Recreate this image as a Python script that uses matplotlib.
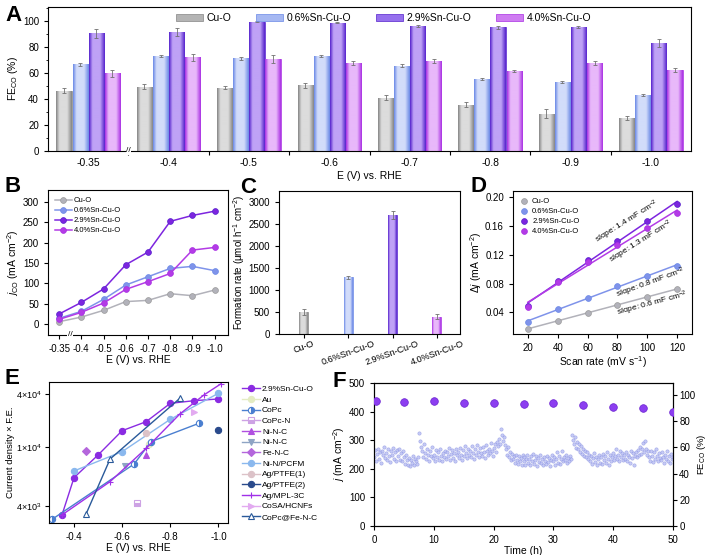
import numpy as np
import matplotlib
matplotlib.use('Agg')
import matplotlib.pyplot as plt
from matplotlib.colors import LinearSegmentedColormap
from matplotlib.ticker import MultipleLocator, NullLocator

plt.rcParams['font.family'] = ['Liberation Sans', 'DejaVu Sans']
plt.rcParams['mathtext.fontset'] = 'custom'
plt.rcParams['mathtext.rm'] = 'Liberation Sans'
plt.rcParams['mathtext.it'] = 'Liberation Sans:italic'
plt.rcParams['axes.unicode_minus'] = False
plt.rcParams['font.size'] = 7
plt.rcParams['axes.linewidth'] = 0.8
plt.rcParams['xtick.major.width'] = 0.8
plt.rcParams['ytick.major.width'] = 0.8
plt.rcParams['xtick.major.size'] = 3
plt.rcParams['ytick.major.size'] = 3
plt.rcParams['xtick.minor.size'] = 1.8
plt.rcParams['ytick.minor.size'] = 1.8

# ---- data ----
samples = ['Cu-O', '0.6%Sn-Cu-O', '2.9%Sn-Cu-O', '4.0%Sn-Cu-O']
potentials = ['-0.35', '-0.4', '-0.5', '-0.6', '-0.7', '-0.8', '-0.9', '-1.0']

# A: FE_CO (%)
fe_cu = [46.2, 49.2, 48.7, 50.5, 41.0, 35.4, 28.7, 25.6]
fe_06 = [66.4, 72.8, 71.0, 72.8, 65.4, 55.4, 52.8, 42.8]
fe_29 = [90.3, 91.3, 99.2, 98.5, 95.9, 94.9, 95.4, 83.1]
fe_40 = [59.5, 71.8, 70.5, 67.2, 69.2, 61.5, 67.2, 62.3]
fe_cu_err = [2.0, 2.0, 1.5, 2.0, 2.0, 2.0, 3.5, 1.5]
fe_06_err = [1.5, 0.5, 1.5, 0.8, 1.0, 1.0, 1.0, 0.8]
fe_29_err = [3.5, 3.0, 0.5, 0.5, 1.0, 1.0, 0.8, 3.0]
fe_40_err = [3.0, 2.5, 3.0, 1.5, 1.5, 1.0, 1.5, 1.5]

# B: j_CO (mA cm-2)
jco_cu = [5.7, 17, 33.5, 55, 58, 74.4, 69.5, 83.4]
jco_06 = [14, 31, 60.5, 95.7, 116, 136.5, 141.5, 131]
jco_29 = [24.5, 53, 86, 145.5, 176.6, 252, 266.6, 277]
jco_40 = [11.4, 28.6, 51.5, 85, 104, 124, 181.5, 188]

# C: formation rate
rate = [500, 1286, 2705, 393]
rate_err = [60, 35, 90, 55]

# D: double-layer capacitance
scan_rate = [20, 40, 60, 80, 100, 120]
dj_cu = [0.0168, 0.0284, 0.0395, 0.0497, 0.0618, 0.0724]
dj_06 = [0.026, 0.045, 0.0604, 0.0766, 0.090, 0.105]
dj_29 = [0.0488, 0.0836, 0.1128, 0.1388, 0.167, 0.1912]
dj_40 = [0.048, 0.082, 0.1105, 0.1337, 0.157, 0.1777]
slope_labels = ['0.6', '0.8', '1.4', '1.3']

# E: comparison with literature (E vs RHE, current density x F.E.)
e_sn29 = ([-0.35, -0.4, -0.5, -0.6, -0.7, -0.8, -0.9, -1.0],
          [3480, 6210, 8830, 15310, 19380, 31300, 33570, 35100])
e_au = ([-0.71], [10800])
e_copc = ([-0.31, -0.65, -0.72, -0.92], [3260, 7680, 11500, 18600])
e_copcn = ([-0.66], [4170])
e_ninc1 = ([-0.70], [8830])
e_ninc2 = ([-0.61], [7450])
e_fenc = ([-0.45], [9440])
e_pcfm = ([-0.4, -0.6, -0.8, -1.0], [6890, 9300, 20600, 40700])
e_ptfe1 = ([-0.70], [14300])
e_ptfe2 = ([-1.0], [15600])
e_mpl = ([-0.35, -0.55, -0.7, -0.84, -0.94, -1.01], [3480, 5840, 9800, 23700, 39000, 52000])
e_cosa = ([-0.90], [25200])
e_copcfe = ([-0.45, -0.55, -0.84], [3530, 8300, 35700])

# F: stability, j every 10 min and FE every 5 h
j_stab = [
    240, 265, 228, 252, 270, 235, 258, 222, 262, 248, 275, 238,
    255, 230, 268, 245, 224, 262, 250, 272, 236, 258, 228, 266,
    244, 270, 232, 255, 226, 262, 240, 218, 250, 231, 215, 238,
    210, 232, 222, 245, 214, 236, 228, 218, 242, 325, 298, 275,
    262, 240, 285, 255, 236, 270, 248, 229, 262, 244, 275, 238,
    250, 228, 265, 242, 258, 232, 270, 246, 226, 255, 240, 262,
    235, 258, 244, 272, 230, 252, 265, 238, 256, 229, 268, 247,
    260, 238, 274, 250, 232, 266, 245, 280, 255, 237, 270, 249,
    262, 242, 278, 254, 236, 268, 250, 284, 258, 240, 272, 256,
    245, 276, 258, 238, 282, 262, 248, 270, 255, 290, 262, 244,
    272, 286, 260, 295, 278, 305, 288, 340, 318, 296, 310, 282,
    268, 248, 275, 240, 258, 230, 252, 236, 244, 222, 250, 232,
    218, 245, 228, 238, 215, 250, 226, 240, 212, 234, 248, 222,
    236, 214, 244, 226, 252, 218, 232, 245, 210, 238, 224, 248,
    220, 236, 212, 242, 228, 216, 246, 224, 238, 210, 232, 250,
    226, 240, 214, 235, 258, 222, 244, 218, 236, 262, 228, 242,
    232, 248, 220, 238, 226, 245, 235, 318, 300, 285, 310, 272,
    295, 268, 288, 260, 278, 252, 270, 246, 262, 240, 258, 236,
    250, 228, 244, 218, 238, 255, 225, 242, 215, 236, 248, 222,
    240, 218, 252, 230, 245, 222, 258, 235, 215, 248, 228, 242,
    255, 232, 246, 268, 236, 250, 228, 262, 240, 255, 230, 248,
    236, 258, 228, 250, 242, 222, 262, 238, 254, 215, 246, 258,
    240, 265, 248, 275, 252, 268, 290, 258, 298, 270, 250, 262,
    240, 228, 262, 246, 224, 258, 236, 270, 244, 226, 255, 238,
    230, 258, 242, 222, 250, 236, 262, 228, 245, 220, 252, 236, 240]
j_time = np.arange(len(j_stab)) / 6.0
fe_time = [0.4, 5, 10, 15, 20, 25, 30, 35, 40, 45, 50]
fe_stab = [95.2, 94.7, 95.0, 93.5, 93.7, 92.9, 94.0, 91.9, 90.9, 89.7, 86.9]

# colours (dark edge, light centre, line colour)
dark = ['#858585', '#6a88e6', '#5522cc', '#a92fe3']
light = ['#dcdcdc', '#d2dcfa', '#bfa2f6', '#e8b8fa']
mid = ['#b4b4b4', '#a6b8f2', '#9670ee', '#cf7cf2']
line_c = ['#b2b2ba', '#7f93ea', '#7d25df', '#b33be6']


def shade(ax, bars, d, l):
    cmap = LinearSegmentedColormap.from_list('g', [(0, d), (0.22, l), (0.7, l), (1, d)])
    grad = np.linspace(0, 1, 64).reshape(1, -1)
    for b in bars:
        x0, y0 = b.get_xy()
        im = ax.imshow(grad, extent=[x0, x0 + b.get_width(), y0, y0 + b.get_height()],
                       cmap=cmap, aspect='auto', interpolation='bilinear', zorder=2)
        im.set_clip_path(b)


def style(ax):
    ax.tick_params(direction='out', top=False, right=False, labelsize=7)


fig = plt.figure(figsize=(7.09, 5.55), dpi=100)
W, H = 709.0, 555.0


def place(x0, y0, x1, y1):
    return fig.add_axes([x0 / W, 1 - y1 / H, (x1 - x0) / W, (y1 - y0) / H])


# ---- A ----
axA = place(48, 7, 691, 151)
idx = np.arange(len(potentials))
fe_all = [fe_cu, fe_06, fe_29, fe_40]
fe_err = [fe_cu_err, fe_06_err, fe_29_err, fe_40_err]
for k in range(4):
    bars = axA.bar(idx + (k - 1.5) * 0.2, fe_all[k], 0.19, color=mid[k], edgecolor=dark[k],
                   linewidth=0.5, label=samples[k], zorder=2)
    shade(axA, bars, dark[k], light[k])
    axA.errorbar(idx + (k - 1.5) * 0.2, fe_all[k], yerr=fe_err[k], fmt='none',
                 ecolor='#707070', elinewidth=0.6, capsize=1.5, capthick=0.6, zorder=3)
axA.set_xlim(-0.5, 7.5)
axA.set_ylim(0, 110.5)
axA.set_xticks(np.arange(0.5, 7, 1))
axA.set_xticklabels([])
axA.set_xticks(idx, minor=True)
axA.set_xticklabels(potentials, minor=True)
axA.tick_params(axis='x', which='minor', length=0, pad=5)
axA.set_yticks(np.arange(0, 101, 20))
axA.yaxis.set_minor_locator(MultipleLocator(10))
style(axA)
axA.tick_params(axis='x', which='minor', labelsize=7.5)
axA.set_ylabel('FE$_{\\mathregular{CO}}$ (%)', fontsize=7.5, labelpad=2)
axA.set_xlabel('E (V) vs. RHE', fontsize=7.5, labelpad=2)
axA.text(0.5, 0, '//', transform=axA.get_xaxis_transform(), ha='center', va='center',
         fontsize=6, bbox=dict(facecolor='white', edgecolor='none', pad=0.3), zorder=5, clip_on=False)
axA.legend(ncol=4, frameon=False, loc='upper left', bbox_to_anchor=(0.185, 1.02),
           handlelength=2.6, handleheight=0.7, columnspacing=2.4, handletextpad=0.3, fontsize=7.5)

# ---- B ----
axB = place(48, 190, 228, 335)
jco_all = [jco_cu, jco_06, jco_29, jco_40]
for k in range(4):
    axB.plot(idx, jco_all[k], '-o', color=line_c[k], lw=1.1, ms=4.2, mec=dark[k] if k else '#9a9a9a',
             mew=0.5, label=samples[k])
axB.set_xlim(-0.5, 7.6)
axB.set_ylim(-27, 329)
axB.set_xticks(idx)
axB.set_xticklabels(potentials)
axB.set_yticks(np.arange(0, 301, 50))
style(axB)
axB.set_ylabel('$j_{\\mathregular{CO}}$ (mA cm$^{-2}$)', fontsize=7.5, labelpad=1)
axB.set_xlabel('E (V) vs. RHE', fontsize=7.5, labelpad=1)
axB.text(0.5, 0, '//', transform=axB.get_xaxis_transform(), ha='center', va='center',
         fontsize=6, bbox=dict(facecolor='white', edgecolor='none', pad=0.3), zorder=5, clip_on=False)
axB.legend(frameon=False, loc='upper left', bbox_to_anchor=(0.0, 1.0), fontsize=5.5,
           handlelength=2.2, labelspacing=0.35, handletextpad=0.3)

# ---- C ----
axC = place(279, 191, 460, 334)
cx = np.arange(4)
for k in range(4):
    bars = axC.bar(cx[k], rate[k], 0.2, color=mid[k], edgecolor=dark[k], linewidth=0.5, zorder=2)
    shade(axC, bars, dark[k], light[k])
axC.errorbar(cx, rate, yerr=rate_err, fmt='none', ecolor='#707070', elinewidth=0.6,
             capsize=1.5, capthick=0.6, zorder=3)
axC.set_xlim(-0.56, 3.52)
axC.set_ylim(0, 3250)
axC.set_xticks(cx)
axC.set_xticklabels(samples, rotation=20)
axC.set_yticks(np.arange(0, 3001, 500))
style(axC)
axC.tick_params(axis='x', labelsize=6.5, pad=1)
axC.set_ylabel('Formation rate (μmol h$^{-1}$ cm$^{-2}$)', fontsize=7, labelpad=1)

# ---- D ----
axD = place(513, 191, 692, 334)
dj_all = [dj_cu, dj_06, dj_29, dj_40]
for k in range(4):
    p = np.polyfit(scan_rate, dj_all[k], 1)
    xs = np.array([scan_rate[0], scan_rate[-1]])
    axD.plot(xs, np.polyval(p, xs), '-', color=line_c[k], lw=1.1, zorder=2)
    axD.plot(scan_rate, dj_all[k], 'o', color=line_c[k], ms=4.2, mec=dark[k] if k else '#9a9a9a',
             mew=0.5, label=samples[k], zorder=3)
axD.set_xlim(10, 130)
axD.set_ylim(0.0098, 0.2088)
axD.set_xticks(scan_rate)
axD.set_yticks([0.04, 0.08, 0.12, 0.16, 0.20])
axD.set_yticklabels(['0.04', '0.08', '0.12', '0.16', '0.20'])
style(axD)
axD.set_xlabel('Scan rate (mV s$^{-1}$)', fontsize=7.5, labelpad=1)
axD.set_ylabel('Δ$j$ (mA cm$^{-2}$)', fontsize=7.5, labelpad=1)
axD.legend(frameon=False, loc='upper left', bbox_to_anchor=(0.0, 1.0), fontsize=5.5,
           handlelength=1.0, labelspacing=0.35, handletextpad=0.6)
for lab, (tx, ty, ang) in zip(slope_labels, [(103.7, 0.052, 15), (102.3, 0.0803, 20),
                                             (86.4, 0.166, 32), (96.1, 0.1374, 32)]):
    axD.text(tx, ty, 'slope: %s mF cm$^{-2}$' % lab, rotation=ang, fontsize=6,
             ha='center', va='center', rotation_mode='anchor')

# ---- E ----
def fwd(v):
    l = np.log10(np.maximum(np.asarray(v, dtype=float), 1e-9)) - 4
    return np.where(l < 0, l * (59 / 0.398), l * (53 / 0.602))


def inv(u):
    u = np.asarray(u, dtype=float)
    return 10 ** (4 + np.where(u < 0, u * 0.398 / 59, u * 0.602 / 53))


axE = place(49, 382, 228, 523)
e_series = [
    (e_sn29, '2.9%Sn-Cu-O', '#8a2be2', 'o', 'full'),
    (e_au, 'Au', '#e4ecc2', 'o', 'full'),
    (e_copc, 'CoPc', '#4a7fd0', 'o', 'right'),
    (e_copcn, 'CoPc-N', '#cda2e4', 's', 'bottom'),
    (e_ninc1, 'Ni-N-C', '#b050e0', '^', 'full'),
    (e_ninc2, 'Ni-N-C', '#8ea4c4', 'v', 'full'),
    (e_fenc, 'Fe-N-C', '#b466dc', 'D', 'full'),
    (e_pcfm, 'Ni-N/PCFM', '#8ab8ee', 'o', 'full'),
    (e_ptfe1, 'Ag/PTFE(1)', '#dcc2c8', 'o', 'full'),
    (e_ptfe2, 'Ag/PTFE(2)', '#2a4a8c', 'o', 'full'),
    (e_mpl, 'Ag/MPL-3C', '#a030e8', '+', 'full'),
    (e_cosa, 'CoSA/HCNFs', '#e2aaf0', '>', 'full'),
    (e_copcfe, 'CoPc@Fe-N-C', '#2a5a9a', '^', 'none'),
]
for (xs, ys), lab, c, m, fs in e_series:
    kw = dict(color=c, marker=m, ms=4.5, lw=1.0, ls='-', label=lab, mew=0.8)
    if fs == 'none':
        kw.update(mfc='white', mec=c)
    elif fs != 'full':
        kw.update(fillstyle=fs, mfcalt='white', mec=c)
    axE.plot(xs, ys, **kw)
axE.set_yscale('function', functions=(fwd, inv))
axE.set_xlim(-0.296, -1.04)
axE.set_ylim(3070, 54700)
axE.set_xticks([-0.4, -0.6, -0.8, -1.0])
axE.set_xticklabels(['-0.4', '-0.6', '-0.8', '-1.0'])
axE.set_yticks([4e3, 1e4, 4e4])
axE.set_yticklabels(['4×10$^{3}$', '1×10$^{4}$', '4×10$^{4}$'])
axE.yaxis.set_minor_locator(NullLocator())
style(axE)
axE.tick_params(axis='y', labelsize=6.5, pad=2)
axE.set_xlabel('E (V) vs. RHE', fontsize=7.5, labelpad=1)
axE.set_ylabel('Current density × F.E.', fontsize=6.8, labelpad=1)
axE.legend(frameon=False, loc='upper left', bbox_to_anchor=(1.06, 1.0), fontsize=6,
           handlelength=2.2, labelspacing=0.34, handletextpad=0.2, borderaxespad=0)

# ---- F ----
axF = place(374, 383, 673, 526)
axF.plot(j_time, j_stab, 'o', ms=2.4, mfc='#b4baf2', mec='#8a92e2', mew=0.4, alpha=0.75, zorder=2)
axF.set_xlim(0, 50)
axF.set_ylim(0, 500)
axF.set_xticks(np.arange(0, 51, 10))
axF.set_yticks(np.arange(0, 501, 100))
style(axF)
axF.set_xlabel('Time (h)', fontsize=7.5, labelpad=1)
axF.set_ylabel('$j$ (mA cm$^{-2}$)', fontsize=7.5, labelpad=1)
axF2 = axF.twinx()
axF2.plot(fe_time, fe_stab, 'o', ms=5.5, color='#8c3ef0', mec='#6a22d0', mew=0.5, zorder=3)
axF2.set_ylim(0, 109)
axF2.set_yticks(np.arange(0, 101, 20))
axF2.tick_params(direction='out', labelsize=7, pad=1.5)
axF2.set_ylabel('FE$_{\\mathregular{CO}}$ (%)', fontsize=6.8, labelpad=0)

# panel letters
for lab, x, y in [('A', 5, 5), ('B', 5, 176), ('C', 240, 177), ('D', 470, 176),
                  ('E', 4, 368), ('F', 333, 371)]:
    fig.text(x / W, 1 - y / H, lab, fontsize=16, fontweight='bold', ha='left', va='top')

fig.savefig('out.png', dpi=100)
